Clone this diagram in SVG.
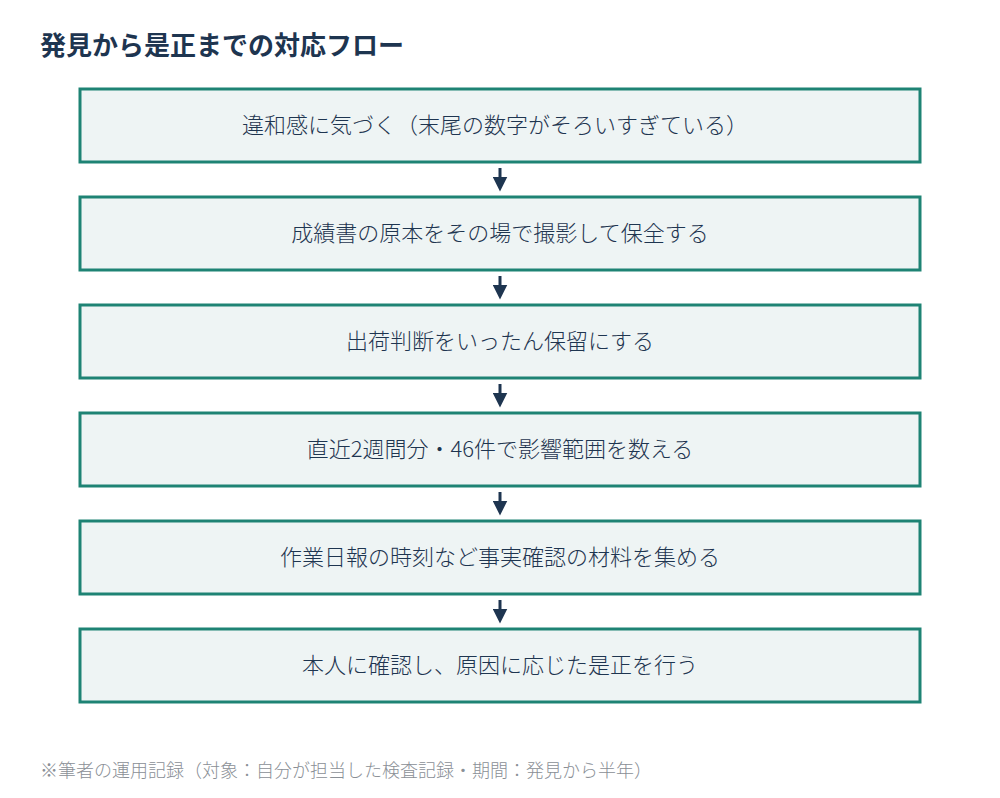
<svg xmlns="http://www.w3.org/2000/svg" width="1000" height="798" viewBox="0 0 1000 798">
<style>
text{font-family:"Noto Sans CJK JP","Noto Sans",sans-serif;fill:#1e3550}
.t{font-size:26px;font-weight:700}
.b{fill:#eef4f4;stroke:#1e8374;stroke-width:3}
.l{font-size:22px;text-anchor:middle;font-weight:300}
.n{font-size:18px;fill:#8a8f96;font-weight:300}
.c{stroke:#1e3550;stroke-width:3}
</style>
<defs><marker id="a" markerWidth="5" markerHeight="5" refX="2.5" refY="2.5" orient="auto" markerUnits="strokeWidth"><path d="M0,0L5,2.5L0,5z" fill="#1e3550"/></marker></defs>
<rect width="1000" height="798" fill="#fff"/>
<text class="t" x="40" y="55">発見から是正までの対応フロー</text>
<g id="n1"><rect class="b" x="80" y="89" width="840" height="73"/><text class="l" x="495" y="133">違和感に気づく（末尾の数字がそろいすぎている）</text></g>
<g id="n2"><rect class="b" x="80" y="197" width="840" height="73"/><text class="l" x="500" y="241">成績書の原本をその場で撮影して保全する</text></g>
<g id="n3"><rect class="b" x="80" y="305" width="840" height="73"/><text class="l" x="500" y="349">出荷判断をいったん保留にする</text></g>
<g id="n4"><rect class="b" x="80" y="413" width="840" height="73"/><text class="l" x="500" y="457">直近2週間分・46件で影響範囲を数える</text></g>
<g id="n5"><rect class="b" x="80" y="521" width="840" height="73"/><text class="l" x="500" y="565">作業日報の時刻など事実確認の材料を集める</text></g>
<g id="n6"><rect class="b" x="80" y="629" width="840" height="73"/><text class="l" x="500" y="673">本人に確認し、原因に応じた是正を行う</text></g>
<g id="connectors">
<line class="c" x1="500" y1="168" x2="500" y2="184" marker-end="url(#a)"/>
<line class="c" x1="500" y1="276" x2="500" y2="292" marker-end="url(#a)"/>
<line class="c" x1="500" y1="384" x2="500" y2="400" marker-end="url(#a)"/>
<line class="c" x1="500" y1="492" x2="500" y2="508" marker-end="url(#a)"/>
<line class="c" x1="500" y1="600" x2="500" y2="616" marker-end="url(#a)"/>
</g>
<text class="n" x="40" y="777">※筆者の運用記録（対象：自分が担当した検査記録・期間：発見から半年）</text>
</svg>
